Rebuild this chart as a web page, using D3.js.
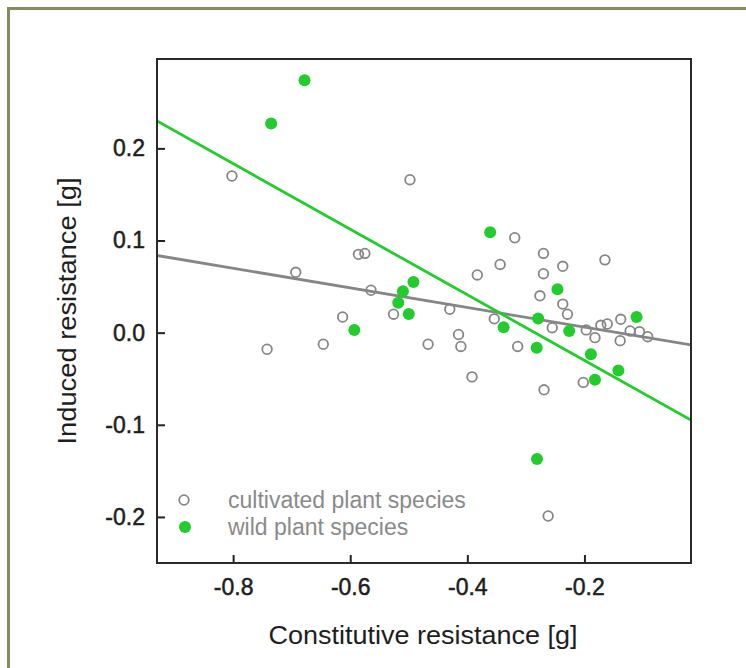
<!DOCTYPE html>
<html>
<head>
<meta charset="utf-8">
<script src="https://cdn.jsdelivr.net/npm/d3@7"></script>
<style>
  html, body { margin: 0; padding: 0; background: #fff; }
  svg { display: block; font-family: "Liberation Sans", Arial, sans-serif; }
</style>
</head>
<body>
<svg id="chart" width="746" height="668"></svg>
<script>
// Cultivated plant species: [constitutive, induced]
const cultivatedX = [-0.802, -0.498, -0.693, -0.586, -0.575, -0.5645, -0.613, -0.646, -0.742, -0.526,
                     -0.430, -0.354, -0.415, -0.411, -0.467, -0.314, -0.392, -0.319, -0.344, -0.383,
                     -0.270, -0.165, -0.237, -0.270, -0.276, -0.237, -0.229, -0.138, -0.255, -0.197,
                     -0.172, -0.161, -0.182, -0.122, -0.106, -0.092, -0.139, -0.202, -0.269, -0.262];
const cultivatedY = [0.170, 0.166, 0.0655, 0.085, 0.086, 0.046, 0.017, -0.0126, -0.018, 0.020,
                     0.0254, 0.015, -0.002, -0.015, -0.0126, -0.015, -0.048, 0.103, 0.074, 0.0626,
                     0.086, 0.079, 0.072, 0.064, 0.040, 0.031, 0.020, 0.0145, 0.0054, 0.003,
                     0.008, 0.0094, -0.0054, 0.0018, 0.001, -0.0044, -0.0087, -0.054, -0.062, -0.199];

// Wild plant species: [constitutive, induced]
const wildX = [-0.678, -0.735, -0.361, -0.492, -0.510, -0.518, -0.500, -0.593, -0.338,
               -0.2815, -0.279, -0.246, -0.226, -0.111, -0.189, -0.142, -0.182, -0.281];
const wildY = [0.274, 0.227, 0.109, 0.055, 0.045, 0.0325, 0.0203, 0.003, 0.0058,
               -0.0163, 0.0154, 0.047, 0.0018, 0.017, -0.0235, -0.041, -0.051, -0.137];

// Fitted regression lines: induced = intercept + slope * constitutive
const fitIntercepts = [-0.0153, -0.1012];   // cultivated, wild
const fitSlopes     = [-0.1065, -0.3558];

const xTicks = [-0.8, -0.6, -0.4, -0.2];
const yTicks = [-0.2, -0.1, 0.0, 0.1, 0.2];
const legendLabels = ["cultivated plant species", "wild plant species"];

const xDomain = [-0.93, -0.018];
const yDomain = [-0.25, 0.297];

const GREEN = "#22cc2c";
const GREY = "#868686";

const svg = d3.select("#chart");

// outer olive frame
svg.append("rect")
  .attr("x", 8.5).attr("y", 8.5)
  .attr("width", 760).attr("height", 700)
  .attr("fill", "none")
  .attr("stroke", "#868c5f")
  .attr("stroke-width", 3);

const plot = { left: 157, right: 691, top: 59, bottom: 563 };

const x = d3.scaleLinear().domain(xDomain).range([plot.left, plot.right]);
const y = d3.scaleLinear().domain(yDomain).range([plot.bottom, plot.top]);

const fmt = d => d.toFixed(1);

// axes with inward ticks
const gx = svg.append("g")
  .attr("transform", `translate(0,${plot.bottom})`)
  .call(d3.axisBottom(x).tickValues(xTicks).tickSize(-8).tickPadding(16).tickFormat(fmt));
const gy = svg.append("g")
  .attr("transform", `translate(${plot.left},0)`)
  .call(d3.axisLeft(y).tickValues(yTicks).tickSize(-8).tickPadding(12).tickFormat(fmt));

[gx, gy].forEach(g => {
  g.select(".domain").remove();
  g.selectAll(".tick line").attr("stroke", "#222").attr("stroke-width", 2);
  g.selectAll(".tick text")
    .attr("font-size", 23)
    .attr("font-family", "'Liberation Sans', Arial, sans-serif")
    .attr("fill", "#1e1e1e")
    .attr("stroke", "#1e1e1e")
    .attr("stroke-width", 0.5);
});

// regression lines clipped to the plotting box
svg.append("clipPath").attr("id", "plotClip")
  .append("rect")
  .attr("x", plot.left).attr("y", plot.top)
  .attr("width", plot.right - plot.left).attr("height", plot.bottom - plot.top);

const lineColors = [GREY, GREEN];
const lineGen = d3.line().x(d => x(d[0])).y(d => y(d[1]));
fitIntercepts.forEach((a, i) => {
  const pts = xDomain.map(v => [v, a + fitSlopes[i] * v]);
  svg.append("path")
    .attr("d", lineGen(pts))
    .attr("clip-path", "url(#plotClip)")
    .attr("fill", "none")
    .attr("stroke", lineColors[i])
    .attr("stroke-width", 2.8);
});

// cultivated species: open grey circles
svg.append("g").selectAll("circle")
  .data(cultivatedX.map((v, i) => [v, cultivatedY[i]]))
  .join("circle")
  .attr("cx", d => x(d[0]))
  .attr("cy", d => y(d[1]))
  .attr("r", 4.8)
  .attr("fill", "none")
  .attr("stroke", GREY)
  .attr("stroke-width", 1.8);

// wild species: filled green dots
svg.append("g").selectAll("circle")
  .data(wildX.map((v, i) => [v, wildY[i]]))
  .join("circle")
  .attr("cx", d => x(d[0]))
  .attr("cy", d => y(d[1]))
  .attr("r", 6)
  .attr("fill", GREEN);

// plotting box
svg.append("rect")
  .attr("x", plot.left).attr("y", plot.top)
  .attr("width", plot.right - plot.left).attr("height", plot.bottom - plot.top)
  .attr("fill", "none")
  .attr("stroke", "#2a2a2a")
  .attr("stroke-width", 2);

// legend
const legend = svg.append("g");
legendLabels.forEach((lab, i) => {
  const cy = 500 + i * 27;
  if (i === 0) {
    legend.append("circle").attr("cx", 184).attr("cy", cy).attr("r", 4.8)
      .attr("fill", "none").attr("stroke", GREY).attr("stroke-width", 1.8);
  } else {
    legend.append("circle").attr("cx", 185).attr("cy", cy).attr("r", 6).attr("fill", GREEN);
  }
  legend.append("text")
    .attr("x", 228).attr("y", cy).attr("dy", "0.35em")
    .attr("font-size", 23).attr("fill", "#8a8a8a")
    .text(lab);
});

// axis titles
svg.append("text")
  .attr("x", 423).attr("y", 644)
  .attr("text-anchor", "middle")
  .attr("font-size", 26).attr("fill", "#1e1e1e")
  .attr("textLength", 309).attr("lengthAdjust", "spacingAndGlyphs")
  .text("Constitutive resistance [g]");

svg.append("text")
  .attr("transform", "translate(76,311) rotate(-90)")
  .attr("text-anchor", "middle")
  .attr("font-size", 26).attr("fill", "#1e1e1e")
  .attr("textLength", 267).attr("lengthAdjust", "spacingAndGlyphs")
  .text("Induced resistance [g]");
</script>
</body>
</html>
